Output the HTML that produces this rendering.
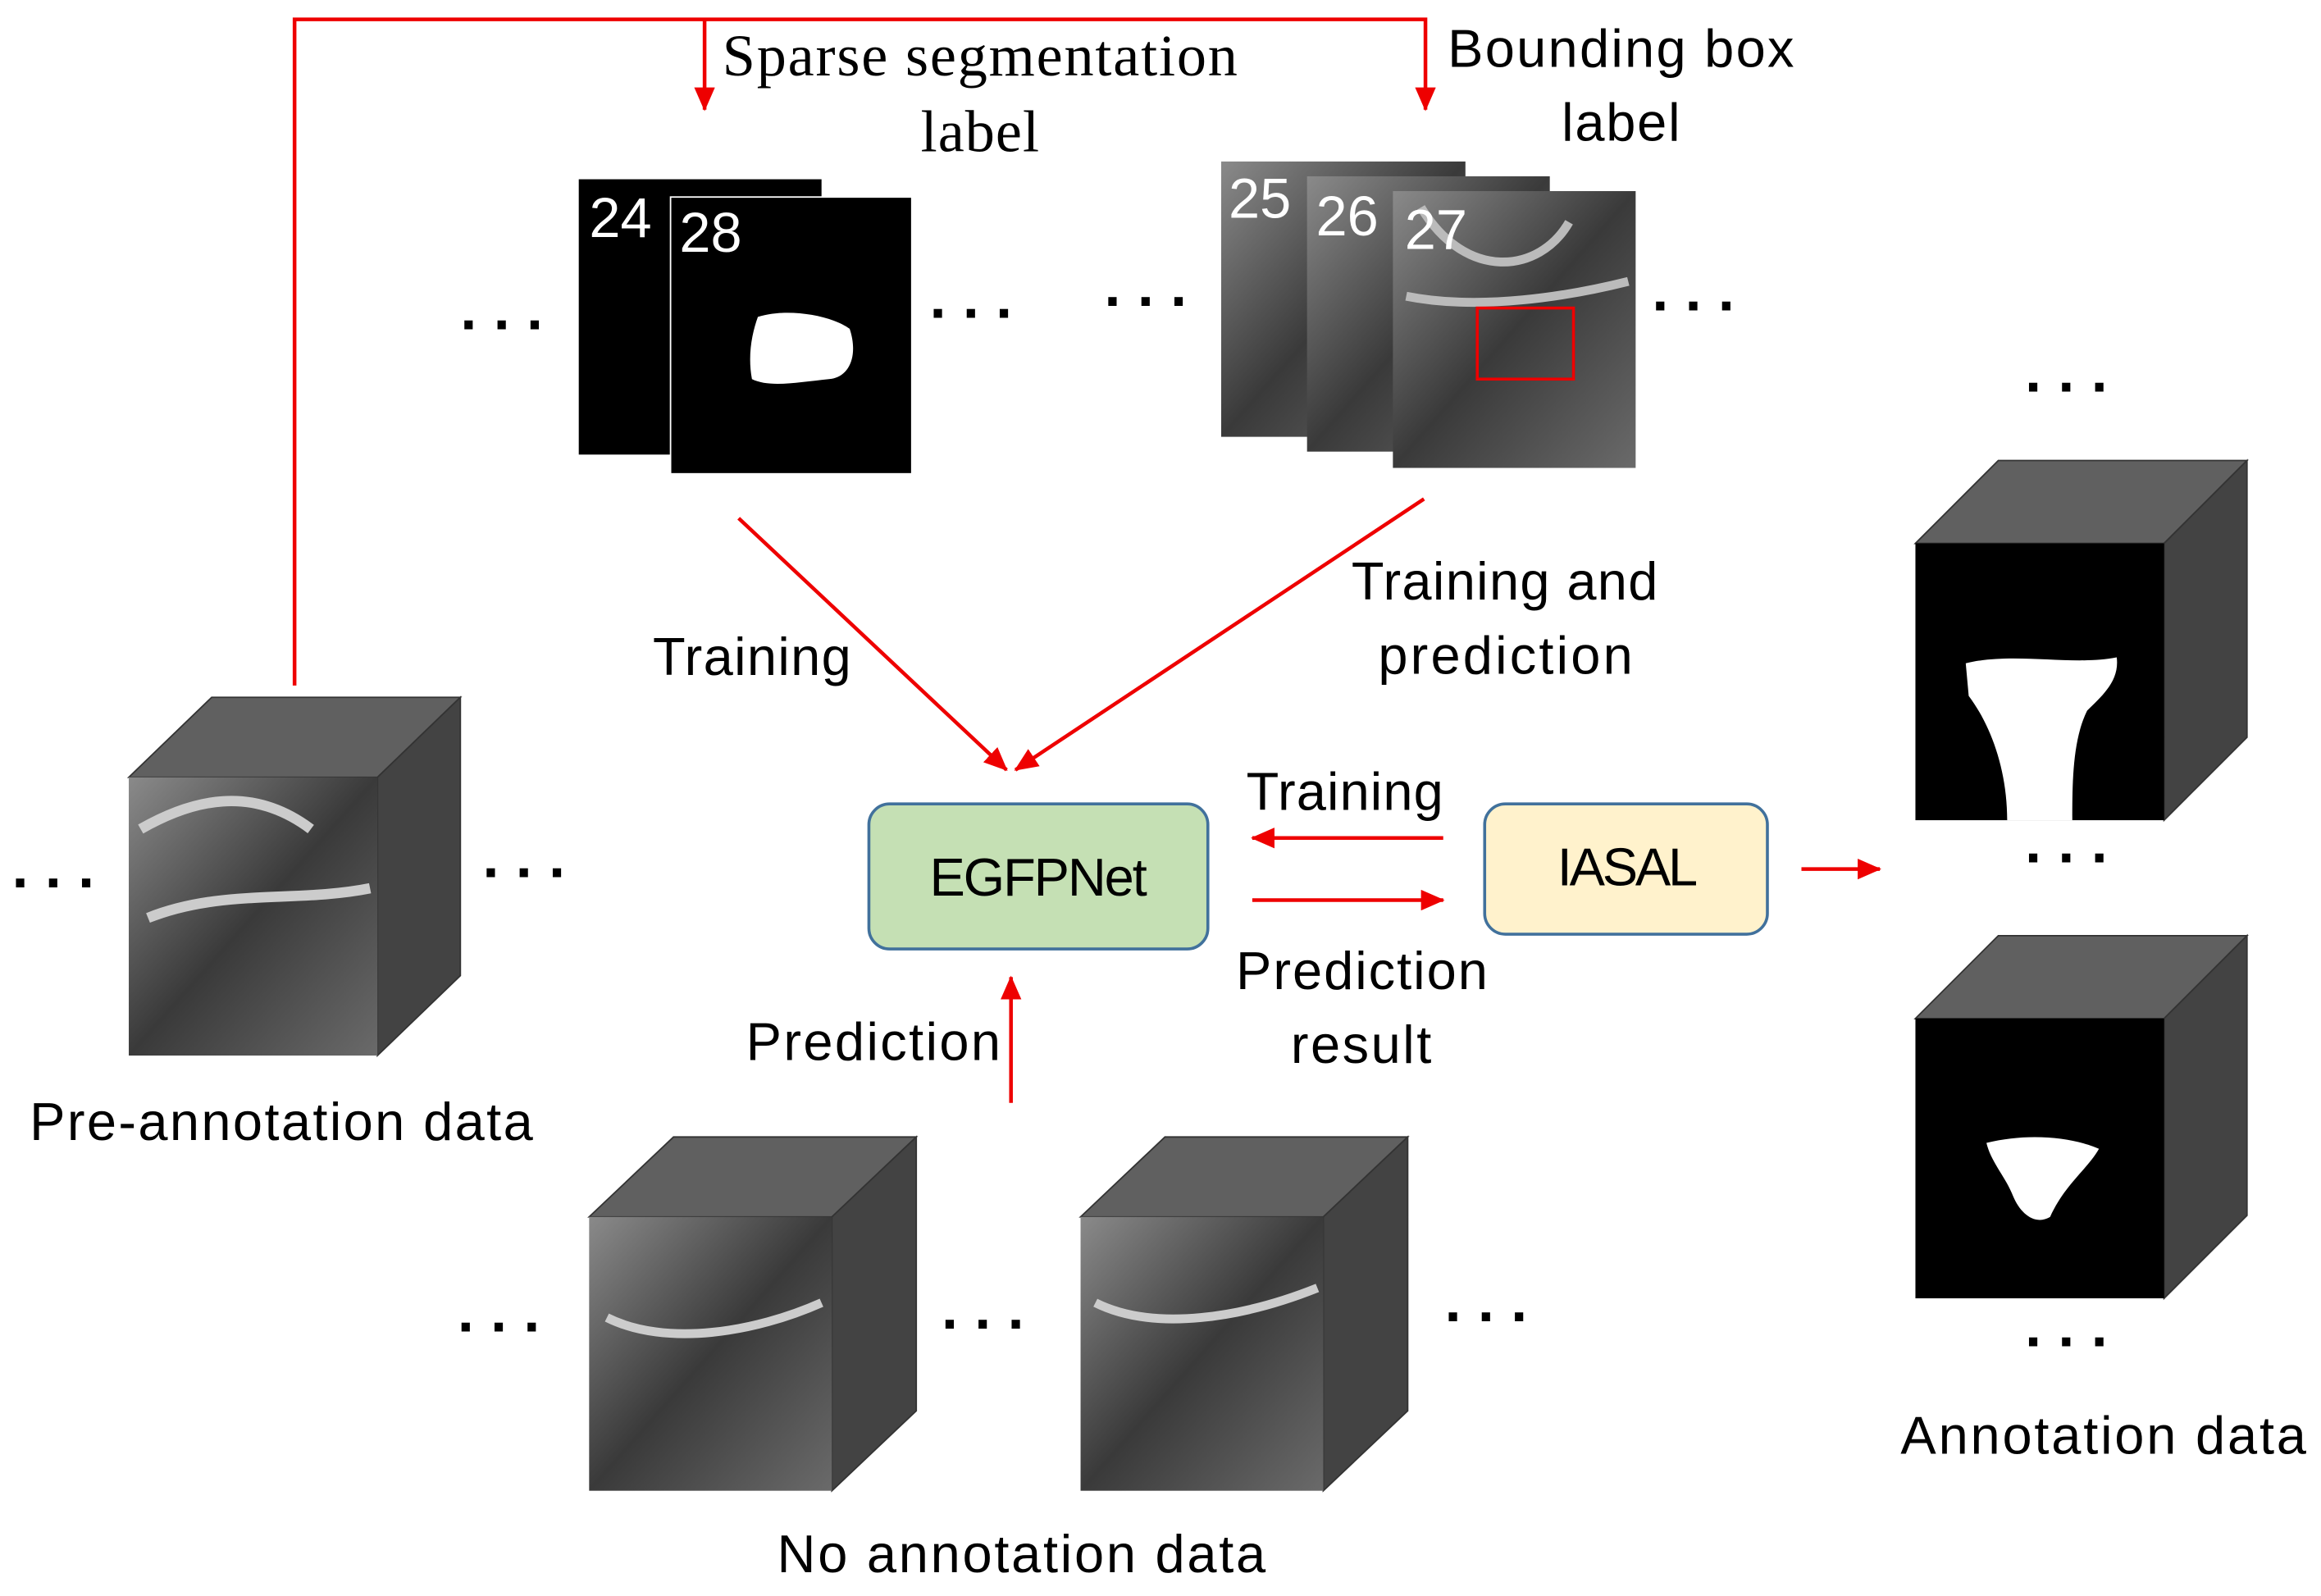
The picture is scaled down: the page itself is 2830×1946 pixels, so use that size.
<!DOCTYPE html>
<html><head><meta charset="utf-8"><style>
html,body{margin:0;padding:0;background:#fff;}
svg{display:block;}
text{font-family:"Liberation Sans",sans-serif;font-size:36px;fill:#000;}
.s{font-family:"Liberation Serif",serif;font-size:40px;}
.w{fill:#fff;font-size:38px;}
.d{font-size:40px;font-weight:bold;letter-spacing:9px;}
</style></head><body>
<svg width="2830" height="1946" viewBox="0 0 1568 1078" xmlns="http://www.w3.org/2000/svg">
<defs>
<marker id="b" markerWidth="16" markerHeight="14" refX="15" refY="7" orient="auto" markerUnits="userSpaceOnUse"><path d="M0,0 L16,7 L0,14 z" fill="#e00"/></marker>
<linearGradient id="mri" x1="0" y1="0" x2="1" y2="1"><stop offset="0" stop-color="#8a8a8a"/><stop offset="0.5" stop-color="#3a3a3a"/><stop offset="1" stop-color="#6a6a6a"/></linearGradient>
</defs>
<g fill="none" stroke="#e00" stroke-width="2.5">
<polyline points="199,463 199,13 963,13 963,74" marker-end="url(#b)"/>
<line x1="476" y1="13" x2="476" y2="74" marker-end="url(#b)"/>
<line x1="499" y1="350" x2="680" y2="520" marker-end="url(#b)"/>
<line x1="962" y1="337" x2="686" y2="520" marker-end="url(#b)"/>
<line x1="975" y1="566" x2="846" y2="566" marker-end="url(#b)"/>
<line x1="846" y1="608" x2="975" y2="608" marker-end="url(#b)"/>
<line x1="683" y1="745" x2="683" y2="660" marker-end="url(#b)"/>
<line x1="1217" y1="587" x2="1270" y2="587" marker-end="url(#b)"/>
</g>
<text class="s" x="488" y="51" textLength="348">Sparse segmentation</text>
<text class="s" x="622" y="102" textLength="80">label</text>
<text x="978" y="45" textLength="234">Bounding box</text>
<text x="1055" y="95" textLength="80">label</text>
<rect x="391" y="121" width="164" height="186" fill="#000"/>
<rect x="453" y="133" width="163" height="187" fill="#000" stroke="#fff" stroke-width="1"/>
<path d="M512,214 C530,208 560,212 574,222 C580,240 574,255 560,256 C540,258 520,262 508,256 C505,240 508,225 512,214z" fill="#fff"/>
<text class="w" x="398" y="160">24</text>
<text class="w" x="459" y="170">28</text>
<rect x="825" y="109" width="165" height="186" fill="url(#mri)"/>
<rect x="883" y="119" width="164" height="186" fill="url(#mri)"/>
<rect x="941" y="129" width="164" height="187" fill="url(#mri)"/>
<path d="M960,140 C990,190 1040,185 1060,150 M950,200 C1000,210 1060,200 1100,190" stroke="#bbb" stroke-width="6" fill="none"/>
<rect x="998" y="208" width="65" height="48" fill="none" stroke="#e00" stroke-width="2"/>
<text class="w" x="830" y="147">25</text>
<text class="w" x="889" y="159">26</text>
<text class="w" x="949" y="168">27</text>
<text class="d" x="311" y="233">···</text>
<text class="d" x="628" y="225">···</text>
<text class="d" x="746" y="217">···</text>
<text class="d" x="1116" y="220">···</text>
<text x="441" y="456" textLength="134">Training</text>
<text x="913" y="405" textLength="207">Training and</text>
<text x="931" y="455" textLength="172">prediction</text>
<rect x="587" y="543" width="229" height="98" rx="14" fill="#c5e0b4" stroke="#41719c" stroke-width="2"/>
<text x="628" y="605" textLength="147">EGFPNet</text>
<rect x="1003" y="543" width="191" height="88" rx="14" fill="#fff2cc" stroke="#41719c" stroke-width="2"/>
<text x="1052" y="598" textLength="95">IASAL</text>
<text x="842" y="547" textLength="133">Training</text>
<text x="835" y="668" textLength="170">Prediction</text>
<text x="872" y="718" textLength="95">result</text>
<text x="504" y="716" textLength="172">Prediction</text>
<polygon points="87,525 143,471 311,471 255,525" fill="#606060" stroke="#333"/>
<polygon points="255,525 311,471 311,659 255,713" fill="#434343" stroke="#333"/>
<rect x="87" y="525" width="168" height="188" fill="url(#mri)"/>
<path d="M95,560 C130,540 170,530 210,560 M100,620 C150,600 200,610 250,600" stroke="#ccc" stroke-width="7" fill="none"/>
<text class="d" x="8" y="610">···</text>
<text class="d" x="326" y="603">···</text>
<text x="20" y="770" textLength="340">Pre-annotation data</text>
<polygon points="398,822 455,768 619,768 562,822" fill="#606060" stroke="#333"/>
<polygon points="562,822 619,768 619,953 562,1007" fill="#434343" stroke="#333"/>
<rect x="398" y="822" width="164" height="185" fill="url(#mri)"/>
<path d="M410,890 C450,910 510,900 555,880" stroke="#ccc" stroke-width="6" fill="none"/>
<polygon points="730,822 787,768 951,768 894,822" fill="#606060" stroke="#333"/>
<polygon points="894,822 951,768 951,953 894,1007" fill="#434343" stroke="#333"/>
<rect x="730" y="822" width="164" height="185" fill="url(#mri)"/>
<path d="M740,880 C780,900 840,890 890,870" stroke="#ccc" stroke-width="6" fill="none"/>
<text class="d" x="309" y="910">···</text>
<text class="d" x="636" y="908">···</text>
<text class="d" x="976" y="903">···</text>
<text x="525" y="1062" textLength="330">No annotation data</text>
<polygon points="1294,367 1350,311 1518,311 1462,367" fill="#606060" stroke="#333"/>
<polygon points="1462,367 1518,311 1518,498 1462,554" fill="#434343" stroke="#333"/>
<rect x="1294" y="367" width="168" height="187" fill="#000"/>
<path d="M1328,448 C1360,440 1400,450 1430,444 C1432,460 1420,470 1410,480 C1400,500 1400,530 1400,554 L1356,554 C1356,520 1345,490 1330,470 z" fill="#fff"/>
<polygon points="1294,688 1350,632 1518,632 1462,688" fill="#606060" stroke="#333"/>
<polygon points="1462,688 1518,632 1518,821 1462,877" fill="#434343" stroke="#333"/>
<rect x="1294" y="688" width="168" height="189" fill="#000"/>
<path d="M1342,772 C1370,765 1400,768 1418,776 C1410,790 1395,800 1385,822 C1375,828 1365,820 1360,808 C1355,795 1345,785 1342,772z" fill="#fff"/>
<text class="d" x="1368" y="275">···</text>
<text class="d" x="1368" y="593">···</text>
<text class="d" x="1368" y="920">···</text>
<text x="1284" y="982" textLength="274">Annotation data</text>
</svg>
</body></html>
